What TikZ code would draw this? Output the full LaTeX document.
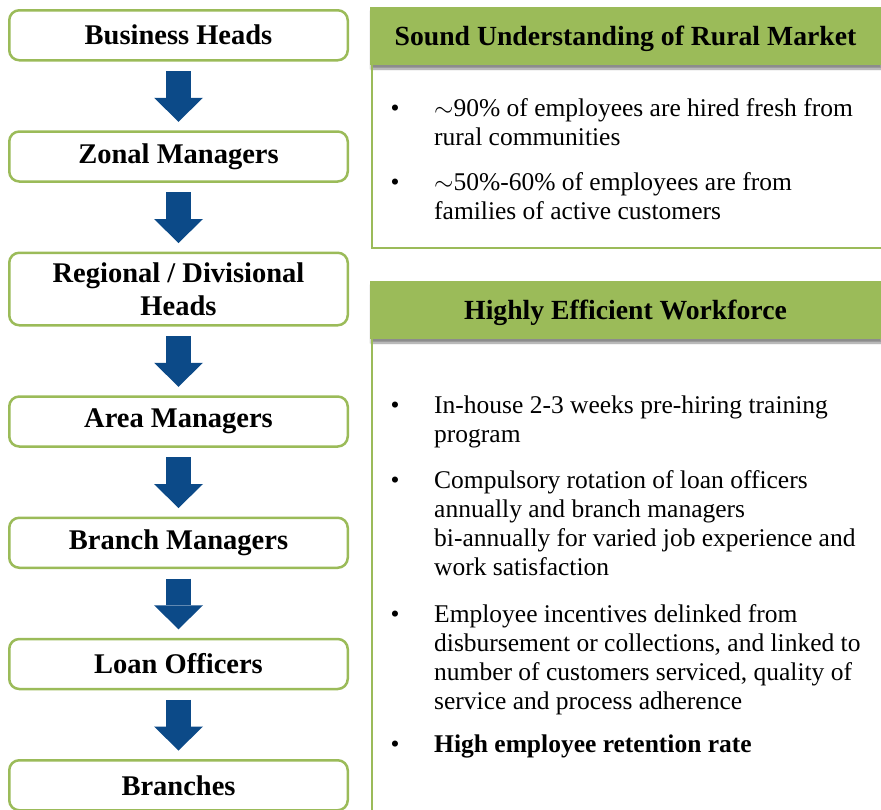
\documentclass[tikz,border=0pt]{standalone}
\usepackage{fontspec}
\setmainfont{Liberation Serif}
\usetikzlibrary{arrows.meta,positioning,shadows.blur}

\definecolor{leafgreen}{HTML}{9BBB59}
\definecolor{arrblue}{RGB}{12,74,136}
\newcommand\bodyfont{\fontsize{25.5}{29}\selectfont}
\newcommand\boxfont{\bfseries\fontsize{28.5}{33}\selectfont}
\newcommand\headfont{\bfseries\fontsize{27.7}{32}\selectfont}

\begin{document}
\begin{tikzpicture}[
  x=1pt, y=-1pt,
  node distance=68.75pt,
  lvl/.style={draw=leafgreen,line width=2.5pt,rounded corners=10pt,fill=white,
    align=center,minimum width=338.5pt,minimum height=50pt,font=\boxfont},
  bigarr/.style={draw=arrblue,line width=25pt,
    -{Triangle[length=24pt,width=49pt,line width=0pt]},shorten <=9.5pt,shorten >=8.5pt},
  hdr/.style={fill=leafgreen,minimum width=511pt,minimum height=58pt,inner sep=0pt,font=\headfont,
    text depth=0pt,
    blur shadow={shadow xshift=1pt,shadow yshift=-4pt,shadow opacity=45,shadow blur steps=8}},
  pline/.style={draw=leafgreen,line width=2pt},
  itm/.style={anchor=north west,inner sep=0pt,align=left,font=\bodyfont},
  bul/.style={anchor=north,inner sep=0pt,font=\bodyfont}
]
\useasboundingbox (0,0) rectangle (881,809);

% hierarchy
\node[lvl] (bh) at (178.5,35.25) {Business Heads};
\node[lvl,below=of bh] (zm) {Zonal Managers};
\node[lvl,below=of zm,minimum height=72.5pt] (rh) {Regional / Divisional\\Heads};
\node[lvl,below=of rh] (am) {Area Managers};
\node[lvl,below=of am] (bm) {Branch Managers};
\node[lvl,below=of bm] (lo) {Loan Officers};
\node[lvl,below=of lo] (br) {Branches};

\draw[bigarr] (bh) -- (zm);
\draw[bigarr] (zm) -- (rh);
\draw[bigarr] (rh) -- (am);
\draw[bigarr] (am) -- (bm);
\draw[bigarr] (bm) -- (lo);
\draw[bigarr] (lo) -- (br);

% rural market panel
\node[hdr] (hd1) at (625.5,36) {Sound Understanding of Rural Market};
\draw[pline] ([xshift=2pt]hd1.south west) |- (881,248);
\node[bul] (d1) at (395,95.7) {\strut\textbullet};
\node[itm] (u1) at (434,95.7) {\strut$\sim$90\% of employees are hired fresh from\\rural communities};
\node[bul] (d2) at (395,169.7) {\strut\textbullet};
\node[itm] (u2) at (434,169.7) {\strut$\sim$50\%-60\% of employees are from\\families of active customers};

% workforce panel
\node[hdr] (hd2) at (625.5,310) {Highly Efficient Workforce};
\draw[pline] ([xshift=2pt]hd2.south west) -- ++(0,480);
\node[bul] (d3) at (395,393) {\strut\textbullet};
\node[itm] (w1) at (434,393) {\strut In-house 2-3 weeks pre-hiring training\\program};
\node[bul] (d4) at (395,468) {\strut\textbullet};
\node[itm] (w2) at (434,468) {\strut Compulsory rotation of loan officers\\annually and branch managers\\bi-annually for varied job experience and\\work satisfaction};
\node[bul] (d5) at (395,602) {\strut\textbullet};
\node[itm] (w3) at (434,602) {\strut Employee incentives delinked from\\disbursement or collections, and linked to\\number of customers serviced, quality of\\service and process adherence};
\node[bul] (d6) at (395,732) {\strut\textbullet};
\node[itm] (w4) at (434,732) {\strut\textbf{High employee retention rate}};
\end{tikzpicture}
\end{document}
